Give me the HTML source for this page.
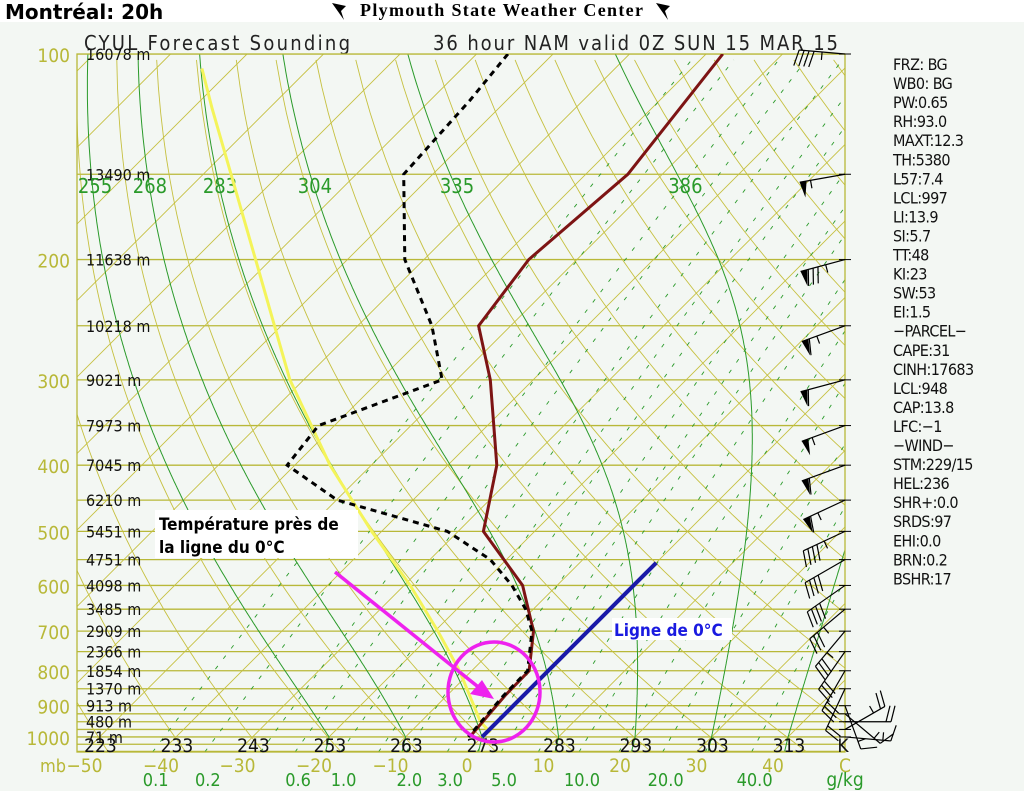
<!DOCTYPE html>
<html><head><meta charset="utf-8">
<style>
html,body{margin:0;padding:0;background:#f3f7f3;}
#wrap{position:relative;width:1024px;height:791px;overflow:hidden;background:#f3f7f3;}
svg text{font-family:"DejaVu Sans Condensed","Liberation Sans Narrow","Liberation Sans",sans-serif;}
</style></head>
<body>
<div id="wrap">
<svg id="chart" width="1024" height="791" viewBox="0 0 1024 791" xmlns="http://www.w3.org/2000/svg">
<rect x="0" y="0" width="1024" height="22" fill="#ffffff"/>
<text x="5" y="19" font-size="20" font-weight="bold" fill="#000" style="font-family:'DejaVu Sans','Liberation Sans',sans-serif">Montréal: 20h</text>
<text x="360" y="16" font-size="18" font-weight="bold" fill="#000" textLength="283" style="font-family:'Liberation Serif',serif">Plymouth State Weather Center</text>
<path d="M332 3 l14 3 l-5 5 l3 9 z" fill="#000"/>
<path d="M656 3 l14 3 l-5 5 l3 9 z" fill="#000"/>
<text x="84" y="50" font-size="20" fill="#222" font-weight="300" textLength="266">CYUL Forecast Sounding</text>
<text x="433" y="50" font-size="20" fill="#222" font-weight="300" textLength="405">36 hour NAM valid 0Z SUN 15 MAR 15</text>
<defs><clipPath id="pc"><rect x="77" y="54" width="768" height="698"/></clipPath></defs>
<g id="grid" clip-path="url(#pc)"></g>
<g id="labels"></g>
<g id="profiles" clip-path="url(#pc)"></g>
<g id="barbs"></g>
<g id="annot"></g>
<g id="stats"></g>
</svg>
</div>
<script>
// ---- data ----
const pressLevels=[100,150,200,250,300,350,400,450,500,550,600,650,700,750,800,850,900,925,950,975,1000,1025,1050];
const labeledPress=[100,200,300,400,500,600,700,800,900,1000];
const heightPress=[100,150,200,250,300,350,400,450,500,550,600,650,700,750,800,850,900,950,1000];
const heightLabels=["16078 m","13490 m","11638 m","10218 m","9021 m","7973 m","7045 m","6210 m","5451 m","4751 m","4098 m","3485 m","2909 m","2366 m","1854 m","1370 m","913 m","480 m","71 m"];
const tempTicks=[-50,-40,-30,-20,-10,0,10,20,30,40];
const dryThetas=[223,233,243,253,263,273,283,293,303,313];
const moistThetaW=[-20,-10,0,10,20,30,40];
const moistLabels=["255","268","283","304","335","386",""];
const mixRatios=[0.1,0.2,0.4,0.6,1.0,1.5,2.0,3.0,4.0,5.0,7.0,10.0,14.0,20.0,28.0,40.0];
const mixLabelVals=[0.1,0.2,0.6,1.0,2.0,3.0,5.0,10.0,20.0,40.0];
const tempP=[100,150,200,250,300,400,500,600,700,800,870,1000];
const tempC=[-57.8,-54.5,-56.3,-54.2,-45.6,-33.6,-26.7,-14.5,-7.1,-2.5,-2.4,-1.6];
const dewP=[100,117,150,200,250,300,350,400,450,500,550,600,650,700,800,870,1000];
const dewC=[-85.9,-84.8,-83.8,-72.5,-60.3,-51.9,-62.1,-61.0,-49.9,-31.4,-22.1,-15.9,-11.0,-7.3,-2.7,-2.6,-1.8];
const parcelP=[105,120,200,300,400,500,600,700,800,950,985];
const parcelC=[-124,-117.5,-92,-71.8,-55.4,-41.3,-29.2,-19.6,-11.6,-2.2,0.5];
const zeroP=[1000,556];
const windP=[100,150,200,250,300,350,400,450,500,550,600,650,700,750,800,850,900,925,950,975,1000];
const windDir=[275,260,255,250,255,250,250,245,245,240,235,230,220,215,210,205,160,130,90,60,95];
const windSpd=[45,55,85,65,60,55,60,65,45,40,40,35,35,30,30,20,15,15,20,25,15];
const stats=["FRZ: BG","WB0: BG","PW:0.65","RH:93.0","MAXT:12.3","TH:5380","L57:7.4","LCL:997","LI:13.9","SI:5.7","TT:48","KI:23","SW:53","EI:1.5","\u2212PARCEL\u2212","CAPE:31","CINH:17683","LCL:948","CAP:13.8","LFC:\u22121","\u2212WIND\u2212","STM:229/15","HEL:236","SHR+:0.0","SRDS:97","EHI:0.0","BRN:0.2","BSHR:17"];

// ---- axes ----
const NS="http://www.w3.org/2000/svg";
const Y0=54,K=296.6,XB=467,SC=7.65,YB=752;
function yP(p){return Y0+K*Math.log(p/100);}
function xT(t,p){return XB+SC*t+(YB-yP(p));}
function mk(tag,attrs,parent){const e=document.createElementNS(NS,tag);for(const k in attrs)e.setAttribute(k,attrs[k]);parent.appendChild(e);return e;}
function poly(pts){return pts.map(q=>q[0].toFixed(1)+","+q[1].toFixed(1)).join(" ");}
const grid=document.getElementById('grid'),labels=document.getElementById('labels'),prof=document.getElementById('profiles'),barbs=document.getElementById('barbs'),annot=document.getElementById('annot'),statsG=document.getElementById('stats');
const OL="#b8b838",GR="#2a9a2a";

for(const p of pressLevels){
  const l=mk('line',{x1:77,x2:845,y1:yP(p),y2:yP(p),stroke:OL,'stroke-width':1.3},grid);
  
  
}
for(let t=-160;t<=50;t+=10){
  const l=mk('line',{x1:xT(t,1052),y1:yP(1052),x2:xT(t,100),y2:yP(100),stroke:'#c6c040','stroke-width':0.9},grid);
  
  
}
for(let th=213;th<=473;th+=10){
  const pts=[];for(let p=1052;p>=100;p-=10){const T=th*Math.pow(p/1000,0.286)-273.15;pts.push([xT(T,p),yP(p)]);}
  const l=mk('polyline',{points:poly(pts),fill:'none',stroke:'#c6c040','stroke-width':0.9},grid);
  
  
}
function es(t){return 6.112*Math.exp(17.67*t/(t+243.5));}
for(const w of mixRatios){
  const pts=[];for(let p=1052;p>=100;p-=10){const ww=w/1000;const e=ww*p/(0.622+ww);const L=Math.log(e/6.112);const Td=243.5*L/(17.67-L);pts.push([xT(Td,p),yP(p)]);}
  const l=mk('polyline',{points:poly(pts),fill:'none',stroke:GR,'stroke-width':0.9,'stroke-dasharray':'4,9'},grid);
  
  
}
const moistPts=[];
moistThetaW.forEach((tw,i)=>{
  let T=tw+273.15;const pts=[];let p=1000;
  pts.push([xT(T-273.15+1.5,1052),yP(1052)]);
  for(p=1000;p>=100;p-=2){
    pts.push([xT(T-273.15,p),yP(p)]);
    const e=es(T-273.15),rs=0.622*e/(p-e);
    const dTdp=(287*T+2.5e6*rs)/(p*(1004+2.5e6*2.5e6*rs*0.622/(287*T*T)));
    T-=dTdp*2;
  }
  moistPts.push(pts);
  const l=mk('polyline',{points:poly(pts),fill:'none',stroke:GR,'stroke-width':1},grid);
  
  
});
const fr=mk('rect',{x:77,y:54,width:768,height:698,fill:'none',stroke:OL,'stroke-width':1.3},labels);


for(const p of labeledPress){
  const t=mk('text',{x:70,y:yP(p)+8,'font-size':19,fill:OL,'text-anchor':'end'},labels);t.textContent=p;
  
  
}
const mbl=mk('text',{x:40,y:772,'font-size':18,fill:OL},labels);mbl.textContent="mb";


heightPress.forEach((p,i)=>{
  const t=mk('text',{x:86,y:yP(p)+6,'font-size':16,fill:'#111'},labels);t.textContent=heightLabels[i];
  
  
});
for(const tc of tempTicks){
  const t=mk('text',{x:xT(tc,1052),y:772,'font-size':19,fill:OL,'text-anchor':'middle'},labels);t.textContent=(tc<0?"\u2212":"")+Math.abs(tc);
  
  
}
const cl=mk('text',{x:845,y:772,'font-size':19,fill:OL,'text-anchor':'middle'},labels);cl.textContent="C";


for(const th of dryThetas){
  const t=mk('text',{x:xT(th-273.15,1000)+2,y:752,'font-size':19,fill:'#111','text-anchor':'middle'},labels);t.textContent=th;
  
  
}
const kl=mk('text',{x:843,y:752,'font-size':19,fill:'#111','text-anchor':'middle'},labels);kl.textContent="K";


for(const w of mixLabelVals){
  const ww=w/1000;const e=ww*1052/(0.622+ww);const L=Math.log(e/6.112);const Td=243.5*L/(17.67-L);
  const t=mk('text',{x:xT(Td,1052)+3,y:786,'font-size':18,fill:GR,'text-anchor':'middle'},labels);t.textContent=w.toFixed(1);
  
  
}
const gk=mk('text',{x:845,y:786,'font-size':19,fill:GR,'text-anchor':'middle'},labels);gk.textContent="g/kg";


moistThetaW.forEach((tw,i)=>{
  if(!moistLabels[i])return;
  const pts=moistPts[i];let best=pts[0];for(const q of pts){if(Math.abs(q[1]-yP(158))<Math.abs(best[1]-yP(158)))best=q;}
  let x=best[0];if(x<95)x=95;
  const t=mk('text',{x:x,y:193,'font-size':20,fill:GR,'text-anchor':'middle'},labels);t.textContent=moistLabels[i];
  
  
});
function line(P,C){return P.map((p,i)=>[xT(C[i],p),yP(p)]);}
const par=mk('polyline',{points:poly(line(parcelP,parcelC)),fill:'none',stroke:'#f4f45a','stroke-width':3},prof);


const tl=mk('polyline',{points:poly(line(tempP,tempC)),fill:'none',stroke:'#7d1414','stroke-width':3},prof);


const dl=mk('polyline',{points:poly(line(dewP,dewC)),fill:'none',stroke:'#000','stroke-width':3,'stroke-dasharray':'6,5'},prof);


const zl=mk('polyline',{points:poly(line(zeroP,[0,0])),fill:'none',stroke:'#1a1aa8','stroke-width':4},annot);


windP.forEach((p,i)=>{
  const y=yP(p),x=845,d=windDir[i]*Math.PI/180;
  const vx=Math.sin(d),vy=-Math.cos(d),L=46;
  const ex=x+vx*L,ey=y+vy*L;
  const g=mk('g',{},barbs);
  
  
  mk('line',{x1:x-6,x2:x+6,y1:y,y2:y,stroke:'#000','stroke-width':1},g);
  mk('line',{x1:x,y1:y,x2:ex,y2:ey,stroke:'#000','stroke-width':1.2},g);
  const px=vy,py=-vx;const nx=-vx,ny=-vy;
  let s=Math.round(windSpd[i]/5)*5,pos=0;
  while(s>=50){const ax=ex+nx*pos,ay=ey+ny*pos;
    mk('polygon',{points:poly([[ax,ay],[ax+px*16+nx*3,ay+py*16+ny*3],[ax+nx*7,ay+ny*7]]),fill:'#000'},g);pos+=8;s-=50;}
  while(s>=10){const ax=ex+nx*pos,ay=ey+ny*pos;
    mk('line',{x1:ax,y1:ay,x2:ax+px*16-nx*4,y2:ay+py*16-ny*4,stroke:'#000','stroke-width':1.2},g);pos+=5;s-=10;}
  if(s>=5){const ax=ex+nx*(pos+3),ay=ey+ny*(pos+3);
    mk('line',{x1:ax,y1:ay,x2:ax+px*8,y2:ay+py*8,stroke:'#000','stroke-width':1.2},g);}
});
stats.forEach((s,i)=>{
  const t=mk('text',{x:893,y:70+i*19.05,'font-size':16,fill:'#111','letter-spacing':'-0.6'},statsG);t.textContent=s;
  
  
});
const ell=mk('ellipse',{cx:494,cy:692,rx:46,ry:50,fill:'none',stroke:'#ee22ee','stroke-width':3.5},annot);


const ar=mk('line',{x1:335,y1:572,x2:482,y2:690,stroke:'#ee22ee','stroke-width':3.5},annot);


const ah=mk('polygon',{points:"494,699 470,694 482,680",fill:'#ee22ee'},annot);


const bx=mk('rect',{x:155,y:510,width:203,height:48,fill:'#ffffff'},annot);


const a1=mk('text',{x:159,y:530,'font-size':17,'font-weight':'bold',fill:'#000',style:"font-family:'DejaVu Sans Condensed','Liberation Sans',sans-serif"},annot);a1.textContent="Température près de";


const a2=mk('text',{x:159,y:553,'font-size':17,'font-weight':'bold',fill:'#000',style:"font-family:'DejaVu Sans Condensed','Liberation Sans',sans-serif"},annot);a2.textContent="la ligne du 0°C";


const bb=mk('rect',{x:612,y:618,width:120,height:22,fill:'#ffffff'},annot);


const zt=mk('text',{x:614,y:636,'font-size':17,'font-weight':'bold',fill:'#1a1ae0',style:"font-family:'DejaVu Sans Condensed','Liberation Sans',sans-serif"},annot);zt.textContent="Ligne de 0°C";


</script>
</body></html>
